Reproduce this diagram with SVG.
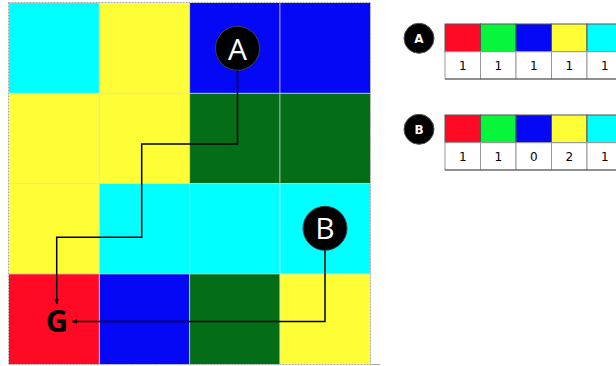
<svg xmlns="http://www.w3.org/2000/svg" width="616" height="366" viewBox="0 0 616 366">
<style>
.cy{fill:#00FFFF}.ye{fill:#FFFE36}.bl{fill:#0408F5}.gr{fill:#036E17}.rd{fill:#FF0A24}.lg{fill:#07F63C}
.gl{stroke:#d8d8d8;stroke-width:1;stroke-opacity:0.8;fill:none}
.conn{fill:none;stroke:#000;stroke-width:1.5}
.big{font-family:"Open Sans","DejaVu Sans",sans-serif;font-size:30px;fill:#fff;text-anchor:middle}
.sm{font-family:"DejaVu Sans",sans-serif;font-size:12px;font-weight:bold;fill:#fff;text-anchor:middle}
.num{font-family:"DejaVu Sans",sans-serif;font-size:12px;fill:#000;text-anchor:middle}
.cell{stroke:#555;stroke-width:1}
.wc{fill:#fff;stroke:#999;stroke-width:1}
</style>
<defs>
<marker id="ah" viewBox="0 0 10 10" refX="9" refY="5" markerWidth="6" markerHeight="6" markerUnits="userSpaceOnUse" orient="auto"><path d="M0,1 L10,5 L0,9 z" fill="#000"/></marker>
</defs>
<g id="grid">
<rect x="9" y="3" width="90.3" height="90.3" class="cy"/>
<rect x="99.3" y="3" width="90.3" height="90.3" class="ye"/>
<rect x="189.6" y="3" width="90.3" height="90.3" class="bl"/>
<rect x="279.9" y="3" width="90.3" height="90.3" class="bl"/>
<rect x="9" y="93.3" width="90.3" height="90.3" class="ye"/>
<rect x="99.3" y="93.3" width="90.3" height="90.3" class="ye"/>
<rect x="189.6" y="93.3" width="90.3" height="90.3" class="gr"/>
<rect x="279.9" y="93.3" width="90.3" height="90.3" class="gr"/>
<rect x="9" y="183.6" width="90.3" height="90.3" class="ye"/>
<rect x="99.3" y="183.6" width="90.3" height="90.3" class="cy"/>
<rect x="189.6" y="183.6" width="90.3" height="90.3" class="cy"/>
<rect x="279.9" y="183.6" width="90.3" height="90.3" class="cy"/>
<rect x="9" y="273.9" width="90.3" height="90.3" class="rd"/>
<rect x="99.3" y="273.9" width="90.3" height="90.3" class="bl"/>
<rect x="189.6" y="273.9" width="90.3" height="90.3" class="gr"/>
<rect x="279.9" y="273.9" width="90.3" height="90.3" class="ye"/>
<path class="gl" d="M99.3 3V364.2M189.6 3V364.2M279.9 3V364.2M9 93.3H370.2M9 183.6H370.2M9 273.9H370.2"/>
<rect x="8.5" y="2.5" width="362" height="362" fill="none" stroke="#aaa" stroke-width="1" stroke-dasharray="2,1"/>
<line x1="370" y1="364.5" x2="380" y2="364.5" stroke="#aaa" stroke-width="1"/>
</g>
<g id="connectors">
<path class="conn" d="M237.5 70V144H141.7V237.3H56.7V304" marker-end="url(#ah)"/>
<path class="conn" d="M325 250V321.5H72" marker-end="url(#ah)"/>
</g>
<g id="nodeA">
<circle cx="237.5" cy="48.3" r="22" fill="#000" stroke="#444" stroke-width="1"/>
<text x="237.5" y="59.5" class="big">A</text>
</g>
<g id="nodeB">
<circle cx="325" cy="228.3" r="22" fill="#000" stroke="#444" stroke-width="1"/>
<text x="325" y="238.5" class="big">B</text>
</g>
<g id="nodeG">
<text x="57" y="332" font-family="'Open Sans','DejaVu Sans',sans-serif" font-size="31" font-weight="bold" fill="#000" text-anchor="middle">G</text>
</g>
<g id="tableA">
<circle cx="419" cy="38.3" r="15" fill="#000" stroke="#555" stroke-width="1"/>
<text x="419" y="42.5" class="sm">A</text>
<rect x="445" y="24" width="35.5" height="27.7" class="rd cell"/>
<rect x="480.5" y="24" width="35.5" height="27.7" class="lg cell"/>
<rect x="516" y="24" width="35.5" height="27.7" class="bl cell"/>
<rect x="551.5" y="24" width="35.5" height="27.7" class="ye cell"/>
<rect x="587" y="24" width="35.5" height="27.7" class="cy cell"/>
<rect x="445" y="51.7" width="35.5" height="27.3" class="wc"/>
<rect x="480.5" y="51.7" width="35.5" height="27.3" class="wc"/>
<rect x="516" y="51.7" width="35.5" height="27.3" class="wc"/>
<rect x="551.5" y="51.7" width="35.5" height="27.3" class="wc"/>
<rect x="587" y="51.7" width="35.5" height="27.3" class="wc"/>
<line x1="445" y1="79" x2="616" y2="79" stroke="#555"/>
<text x="462.7" y="70" class="num">1</text>
<text x="498.2" y="70" class="num">1</text>
<text x="533.7" y="70" class="num">1</text>
<text x="569.2" y="70" class="num">1</text>
<text x="604.7" y="70" class="num">1</text>
</g>
<g id="tableB">
<circle cx="419" cy="129.3" r="15" fill="#000" stroke="#555" stroke-width="1"/>
<text x="419" y="133.5" class="sm">B</text>
<rect x="445" y="115" width="35.5" height="27.7" class="rd cell"/>
<rect x="480.5" y="115" width="35.5" height="27.7" class="lg cell"/>
<rect x="516" y="115" width="35.5" height="27.7" class="bl cell"/>
<rect x="551.5" y="115" width="35.5" height="27.7" class="ye cell"/>
<rect x="587" y="115" width="35.5" height="27.7" class="cy cell"/>
<rect x="445" y="142.7" width="35.5" height="27.3" class="wc"/>
<rect x="480.5" y="142.7" width="35.5" height="27.3" class="wc"/>
<rect x="516" y="142.7" width="35.5" height="27.3" class="wc"/>
<rect x="551.5" y="142.7" width="35.5" height="27.3" class="wc"/>
<rect x="587" y="142.7" width="35.5" height="27.3" class="wc"/>
<line x1="445" y1="170" x2="616" y2="170" stroke="#555"/>
<text x="462.7" y="161" class="num">1</text>
<text x="498.2" y="161" class="num">1</text>
<text x="533.7" y="161" class="num">0</text>
<text x="569.2" y="161" class="num">2</text>
<text x="604.7" y="161" class="num">1</text>
</g>
</svg>
